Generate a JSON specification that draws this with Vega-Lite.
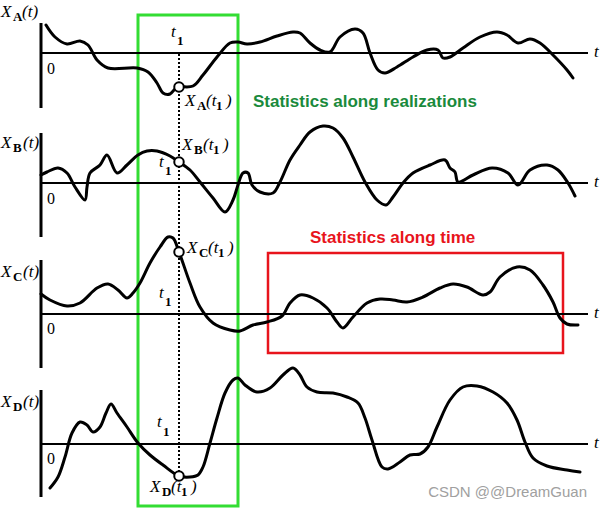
{
  "$schema": "https://vega.github.io/schema/vega-lite/v6.json",
  "width": 602,
  "height": 508,
  "padding": 0,
  "autosize": {"type": "none"},
  "background": "white",
  "config": {"view": {"stroke": null}},
  "layer": [
    {
      "data": {"values": [{"x": 138, "x2": 238, "y": 15, "y2": 506}]},
      "mark": {"type": "rect", "filled": false, "stroke": "#33dd33", "strokeWidth": 3},
      "encoding": {
        "x": {"field": "x", "type": "quantitative", "axis": null, "scale": {"domain": [0, 602], "nice": false, "zero": false}},
        "x2": {"field": "x2"},
        "y": {"field": "y", "type": "quantitative", "axis": null, "scale": {"domain": [0, 508], "reverse": true, "nice": false, "zero": false}},
        "y2": {"field": "y2"}
      }
    },
    {
      "data": {"values": [{"x": 268, "x2": 563, "y": 253, "y2": 353}]},
      "mark": {"type": "rect", "filled": false, "stroke": "#e8141c", "strokeWidth": 2.5},
      "encoding": {
        "x": {"field": "x", "type": "quantitative"},
        "x2": {"field": "x2"},
        "y": {"field": "y", "type": "quantitative"},
        "y2": {"field": "y2"}
      }
    },
    {
      "data": {"values": [
        {"x": 41, "x2": 41, "y": 23, "y2": 108},
        {"x": 41, "x2": 41, "y": 133, "y2": 237},
        {"x": 41, "x2": 41, "y": 260, "y2": 368},
        {"x": 41, "x2": 41, "y": 390, "y2": 497}
      ]},
      "mark": {"type": "rule", "color": "black", "strokeWidth": 3},
      "encoding": {
        "x": {"field": "x", "type": "quantitative"},
        "x2": {"field": "x2"},
        "y": {"field": "y", "type": "quantitative"},
        "y2": {"field": "y2"}
      }
    },
    {
      "data": {"values": [
        {"x": 41, "x2": 588, "y": 53, "y2": 53},
        {"x": 41, "x2": 588, "y": 183, "y2": 183},
        {"x": 41, "x2": 588, "y": 314, "y2": 314},
        {"x": 41, "x2": 588, "y": 444, "y2": 444}
      ]},
      "mark": {"type": "rule", "color": "black", "strokeWidth": 2},
      "encoding": {
        "x": {"field": "x", "type": "quantitative"},
        "x2": {"field": "x2"},
        "y": {"field": "y", "type": "quantitative"},
        "y2": {"field": "y2"}
      }
    },
    {
      "data": {"values": [{"x": 179, "x2": 179, "y": 54, "y2": 474}]},
      "mark": {"type": "rule", "color": "black", "strokeWidth": 2, "strokeDash": [2, 2]},
      "encoding": {
        "x": {"field": "x", "type": "quantitative"},
        "x2": {"field": "x2"},
        "y": {"field": "y", "type": "quantitative"},
        "y2": {"field": "y2"}
      }
    },
    {
      "data": {"values": [
        {"s": "A", "x": 46, "y": 25}, {"s": "A", "x": 55, "y": 37}, {"s": "A", "x": 67, "y": 44}, {"s": "A", "x": 80, "y": 41}, {"s": "A", "x": 88, "y": 45}, {"s": "A", "x": 97, "y": 60}, {"s": "A", "x": 108, "y": 68}, {"s": "A", "x": 137, "y": 68}, {"s": "A", "x": 148, "y": 72}, {"s": "A", "x": 157, "y": 83}, {"s": "A", "x": 163, "y": 93}, {"s": "A", "x": 170, "y": 94}, {"s": "A", "x": 175, "y": 89}, {"s": "A", "x": 179, "y": 87}, {"s": "A", "x": 193, "y": 86}, {"s": "A", "x": 203, "y": 75}, {"s": "A", "x": 217, "y": 57}, {"s": "A", "x": 230, "y": 43}, {"s": "A", "x": 238, "y": 42}, {"s": "A", "x": 247, "y": 44}, {"s": "A", "x": 260, "y": 42}, {"s": "A", "x": 277, "y": 36}, {"s": "A", "x": 293, "y": 32}, {"s": "A", "x": 300, "y": 33}, {"s": "A", "x": 310, "y": 43}, {"s": "A", "x": 320, "y": 50}, {"s": "A", "x": 330, "y": 52}, {"s": "A", "x": 340, "y": 37}, {"s": "A", "x": 355, "y": 29}, {"s": "A", "x": 363, "y": 33}, {"s": "A", "x": 370, "y": 53}, {"s": "A", "x": 378, "y": 70}, {"s": "A", "x": 385, "y": 73}, {"s": "A", "x": 397, "y": 67}, {"s": "A", "x": 413, "y": 57}, {"s": "A", "x": 427, "y": 50}, {"s": "A", "x": 438, "y": 50}, {"s": "A", "x": 443, "y": 58}, {"s": "A", "x": 450, "y": 57}, {"s": "A", "x": 463, "y": 48}, {"s": "A", "x": 480, "y": 37}, {"s": "A", "x": 497, "y": 32}, {"s": "A", "x": 507, "y": 35}, {"s": "A", "x": 518, "y": 43}, {"s": "A", "x": 530, "y": 39}, {"s": "A", "x": 540, "y": 43}, {"s": "A", "x": 553, "y": 55}, {"s": "A", "x": 567, "y": 70}, {"s": "A", "x": 573, "y": 78},
        {"s": "B", "x": 41, "y": 175}, {"s": "B", "x": 47, "y": 172}, {"s": "B", "x": 58, "y": 168}, {"s": "B", "x": 67, "y": 173}, {"s": "B", "x": 75, "y": 187}, {"s": "B", "x": 85, "y": 200}, {"s": "B", "x": 87, "y": 187}, {"s": "B", "x": 90, "y": 173}, {"s": "B", "x": 100, "y": 165}, {"s": "B", "x": 107, "y": 155}, {"s": "B", "x": 117, "y": 173}, {"s": "B", "x": 127, "y": 165}, {"s": "B", "x": 138, "y": 155}, {"s": "B", "x": 147, "y": 151}, {"s": "B", "x": 157, "y": 151}, {"s": "B", "x": 170, "y": 156}, {"s": "B", "x": 179, "y": 162}, {"s": "B", "x": 190, "y": 170}, {"s": "B", "x": 200, "y": 182}, {"s": "B", "x": 213, "y": 198}, {"s": "B", "x": 225, "y": 212}, {"s": "B", "x": 233, "y": 200}, {"s": "B", "x": 238, "y": 185}, {"s": "B", "x": 243, "y": 173}, {"s": "B", "x": 248, "y": 173}, {"s": "B", "x": 252, "y": 185}, {"s": "B", "x": 260, "y": 192}, {"s": "B", "x": 273, "y": 193}, {"s": "B", "x": 280, "y": 182}, {"s": "B", "x": 290, "y": 160}, {"s": "B", "x": 300, "y": 145}, {"s": "B", "x": 310, "y": 132}, {"s": "B", "x": 323, "y": 126}, {"s": "B", "x": 333, "y": 128}, {"s": "B", "x": 343, "y": 138}, {"s": "B", "x": 353, "y": 157}, {"s": "B", "x": 365, "y": 182}, {"s": "B", "x": 377, "y": 200}, {"s": "B", "x": 386, "y": 205}, {"s": "B", "x": 393, "y": 197}, {"s": "B", "x": 403, "y": 183}, {"s": "B", "x": 413, "y": 173}, {"s": "B", "x": 430, "y": 165}, {"s": "B", "x": 445, "y": 160}, {"s": "B", "x": 450, "y": 168}, {"s": "B", "x": 455, "y": 172}, {"s": "B", "x": 458, "y": 182}, {"s": "B", "x": 473, "y": 175}, {"s": "B", "x": 492, "y": 168}, {"s": "B", "x": 508, "y": 173}, {"s": "B", "x": 518, "y": 185}, {"s": "B", "x": 530, "y": 170}, {"s": "B", "x": 547, "y": 165}, {"s": "B", "x": 558, "y": 170}, {"s": "B", "x": 568, "y": 183}, {"s": "B", "x": 575, "y": 196},
        {"s": "C", "x": 41, "y": 294}, {"s": "C", "x": 50, "y": 300}, {"s": "C", "x": 67, "y": 306}, {"s": "C", "x": 80, "y": 303}, {"s": "C", "x": 97, "y": 288}, {"s": "C", "x": 108, "y": 284}, {"s": "C", "x": 118, "y": 290}, {"s": "C", "x": 127, "y": 298}, {"s": "C", "x": 133, "y": 293}, {"s": "C", "x": 140, "y": 283}, {"s": "C", "x": 150, "y": 263}, {"s": "C", "x": 160, "y": 247}, {"s": "C", "x": 168, "y": 237}, {"s": "C", "x": 173, "y": 238}, {"s": "C", "x": 179, "y": 252}, {"s": "C", "x": 190, "y": 283}, {"s": "C", "x": 200, "y": 307}, {"s": "C", "x": 213, "y": 323}, {"s": "C", "x": 230, "y": 330}, {"s": "C", "x": 240, "y": 331}, {"s": "C", "x": 253, "y": 325}, {"s": "C", "x": 267, "y": 322}, {"s": "C", "x": 282, "y": 316}, {"s": "C", "x": 290, "y": 303}, {"s": "C", "x": 300, "y": 295}, {"s": "C", "x": 313, "y": 298}, {"s": "C", "x": 327, "y": 308}, {"s": "C", "x": 337, "y": 322}, {"s": "C", "x": 343, "y": 328}, {"s": "C", "x": 353, "y": 317}, {"s": "C", "x": 367, "y": 303}, {"s": "C", "x": 380, "y": 299}, {"s": "C", "x": 393, "y": 300}, {"s": "C", "x": 407, "y": 302}, {"s": "C", "x": 423, "y": 297}, {"s": "C", "x": 440, "y": 288}, {"s": "C", "x": 453, "y": 284}, {"s": "C", "x": 467, "y": 287}, {"s": "C", "x": 483, "y": 295}, {"s": "C", "x": 490, "y": 292}, {"s": "C", "x": 500, "y": 277}, {"s": "C", "x": 517, "y": 267}, {"s": "C", "x": 530, "y": 270}, {"s": "C", "x": 543, "y": 285}, {"s": "C", "x": 553, "y": 302}, {"s": "C", "x": 560, "y": 318}, {"s": "C", "x": 567, "y": 324}, {"s": "C", "x": 578, "y": 325},
        {"s": "D", "x": 50, "y": 488}, {"s": "D", "x": 58, "y": 477}, {"s": "D", "x": 65, "y": 457}, {"s": "D", "x": 72, "y": 433}, {"s": "D", "x": 80, "y": 422}, {"s": "D", "x": 87, "y": 425}, {"s": "D", "x": 93, "y": 432}, {"s": "D", "x": 100, "y": 427}, {"s": "D", "x": 106, "y": 413}, {"s": "D", "x": 111, "y": 404}, {"s": "D", "x": 117, "y": 413}, {"s": "D", "x": 127, "y": 427}, {"s": "D", "x": 138, "y": 443}, {"s": "D", "x": 150, "y": 455}, {"s": "D", "x": 163, "y": 465}, {"s": "D", "x": 179, "y": 476}, {"s": "D", "x": 190, "y": 477}, {"s": "D", "x": 198, "y": 475}, {"s": "D", "x": 203, "y": 467}, {"s": "D", "x": 210, "y": 443}, {"s": "D", "x": 217, "y": 418}, {"s": "D", "x": 225, "y": 393}, {"s": "D", "x": 233, "y": 380}, {"s": "D", "x": 238, "y": 378}, {"s": "D", "x": 245, "y": 385}, {"s": "D", "x": 257, "y": 392}, {"s": "D", "x": 270, "y": 388}, {"s": "D", "x": 283, "y": 375}, {"s": "D", "x": 293, "y": 368}, {"s": "D", "x": 300, "y": 375}, {"s": "D", "x": 307, "y": 387}, {"s": "D", "x": 317, "y": 392}, {"s": "D", "x": 333, "y": 393}, {"s": "D", "x": 347, "y": 397}, {"s": "D", "x": 358, "y": 403}, {"s": "D", "x": 365, "y": 418}, {"s": "D", "x": 372, "y": 440}, {"s": "D", "x": 382, "y": 467}, {"s": "D", "x": 388, "y": 469}, {"s": "D", "x": 400, "y": 462}, {"s": "D", "x": 410, "y": 455}, {"s": "D", "x": 420, "y": 454}, {"s": "D", "x": 428, "y": 447}, {"s": "D", "x": 437, "y": 427}, {"s": "D", "x": 450, "y": 400}, {"s": "D", "x": 463, "y": 387}, {"s": "D", "x": 477, "y": 386}, {"s": "D", "x": 493, "y": 392}, {"s": "D", "x": 507, "y": 403}, {"s": "D", "x": 517, "y": 420}, {"s": "D", "x": 525, "y": 442}, {"s": "D", "x": 533, "y": 458}, {"s": "D", "x": 547, "y": 466}, {"s": "D", "x": 567, "y": 470}, {"s": "D", "x": 580, "y": 472}
      ]},
      "mark": {"type": "line", "interpolate": "catmull-rom", "color": "black", "strokeWidth": 3, "strokeCap": "round", "strokeJoin": "round"},
      "encoding": {
        "x": {"field": "x", "type": "quantitative"},
        "y": {"field": "y", "type": "quantitative"},
        "detail": {"field": "s"}
      }
    },
    {
      "data": {"values": [{"x": 179, "y": 87}, {"x": 179, "y": 162}, {"x": 179, "y": 252}, {"x": 179, "y": 476}]},
      "mark": {"type": "point", "shape": "circle", "filled": true, "fill": "white", "stroke": "black", "strokeWidth": 2, "size": 90, "opacity": 1},
      "encoding": {
        "x": {"field": "x", "type": "quantitative"},
        "y": {"field": "y", "type": "quantitative"}
      }
    },
    {
      "data": {"values": [
        {"x": 1, "y": 17, "label": "X"}, {"x": 22, "y": 17, "label": "(t)"},
        {"x": 1, "y": 148, "label": "X"}, {"x": 23, "y": 148, "label": "(t)"},
        {"x": 1, "y": 277, "label": "X"}, {"x": 23, "y": 277, "label": "(t)"},
        {"x": 1, "y": 407, "label": "X"}, {"x": 23, "y": 407, "label": "(t)"},
        {"x": 594, "y": 57, "label": "t"}, {"x": 594, "y": 187, "label": "t"}, {"x": 594, "y": 318, "label": "t"}, {"x": 594, "y": 448, "label": "t"},
        {"x": 171, "y": 37, "label": "t"}, {"x": 159, "y": 167, "label": "t"}, {"x": 159, "y": 298, "label": "t"}, {"x": 157, "y": 427, "label": "t"},
        {"x": 185, "y": 106, "label": "X"}, {"x": 206, "y": 106, "label": "(t"}, {"x": 226, "y": 106, "label": ")"},
        {"x": 182, "y": 150, "label": "X"}, {"x": 203, "y": 150, "label": "(t"}, {"x": 223, "y": 150, "label": ")"},
        {"x": 187, "y": 253, "label": "X"}, {"x": 208, "y": 253, "label": "(t"}, {"x": 228, "y": 253, "label": ")"},
        {"x": 150, "y": 492, "label": "X"}, {"x": 171, "y": 492, "label": "(t"}, {"x": 191, "y": 492, "label": ")"}
      ]},
      "mark": {"type": "text", "align": "left", "baseline": "alphabetic", "font": "Liberation Serif", "fontStyle": "italic", "fontSize": 17, "color": "black"},
      "encoding": {
        "x": {"field": "x", "type": "quantitative"},
        "y": {"field": "y", "type": "quantitative"},
        "text": {"field": "label"}
      }
    },
    {
      "data": {"values": [
        {"x": 13, "y": 21, "label": "A"}, {"x": 13, "y": 152, "label": "B"}, {"x": 13, "y": 281, "label": "C"}, {"x": 13, "y": 411, "label": "D"},
        {"x": 177, "y": 45, "label": "1"}, {"x": 165, "y": 175, "label": "1"}, {"x": 165, "y": 306, "label": "1"}, {"x": 163, "y": 436, "label": "1"},
        {"x": 197, "y": 110, "label": "A"}, {"x": 216, "y": 110, "label": "1"},
        {"x": 194, "y": 154, "label": "B"}, {"x": 213, "y": 154, "label": "1"},
        {"x": 199, "y": 257, "label": "C"}, {"x": 218, "y": 257, "label": "1"},
        {"x": 162, "y": 496, "label": "D"}, {"x": 181, "y": 496, "label": "1"}
      ]},
      "mark": {"type": "text", "align": "left", "baseline": "alphabetic", "font": "Liberation Serif", "fontWeight": "bold", "fontSize": 13, "color": "black"},
      "encoding": {
        "x": {"field": "x", "type": "quantitative"},
        "y": {"field": "y", "type": "quantitative"},
        "text": {"field": "label"}
      }
    },
    {
      "data": {"values": [
        {"x": 47, "y": 74, "label": "0"}, {"x": 47, "y": 204, "label": "0"}, {"x": 47, "y": 334, "label": "0"}, {"x": 47, "y": 464, "label": "0"}
      ]},
      "mark": {"type": "text", "align": "left", "baseline": "alphabetic", "font": "Liberation Serif", "fontSize": 16, "color": "black"},
      "encoding": {
        "x": {"field": "x", "type": "quantitative"},
        "y": {"field": "y", "type": "quantitative"},
        "text": {"field": "label"}
      }
    },
    {
      "data": {"values": [{"x": 253, "y": 107, "label": "Statistics along realizations"}]},
      "mark": {"type": "text", "align": "left", "baseline": "alphabetic", "font": "Liberation Sans", "fontWeight": "bold", "fontSize": 17, "color": "#1a8a3c"},
      "encoding": {
        "x": {"field": "x", "type": "quantitative"},
        "y": {"field": "y", "type": "quantitative"},
        "text": {"field": "label"}
      }
    },
    {
      "data": {"values": [{"x": 310, "y": 243, "label": "Statistics along time"}]},
      "mark": {"type": "text", "align": "left", "baseline": "alphabetic", "font": "Liberation Sans", "fontWeight": "bold", "fontSize": 17, "color": "#e8141c"},
      "encoding": {
        "x": {"field": "x", "type": "quantitative"},
        "y": {"field": "y", "type": "quantitative"},
        "text": {"field": "label"}
      }
    },
    {
      "data": {"values": [{"x": 587, "y": 497, "label": "CSDN @@DreamGuan"}]},
      "mark": {"type": "text", "align": "right", "baseline": "alphabetic", "font": "Liberation Sans", "fontSize": 15, "color": "#a0a0a0"},
      "encoding": {
        "x": {"field": "x", "type": "quantitative"},
        "y": {"field": "y", "type": "quantitative"},
        "text": {"field": "label"}
      }
    }
  ]
}
